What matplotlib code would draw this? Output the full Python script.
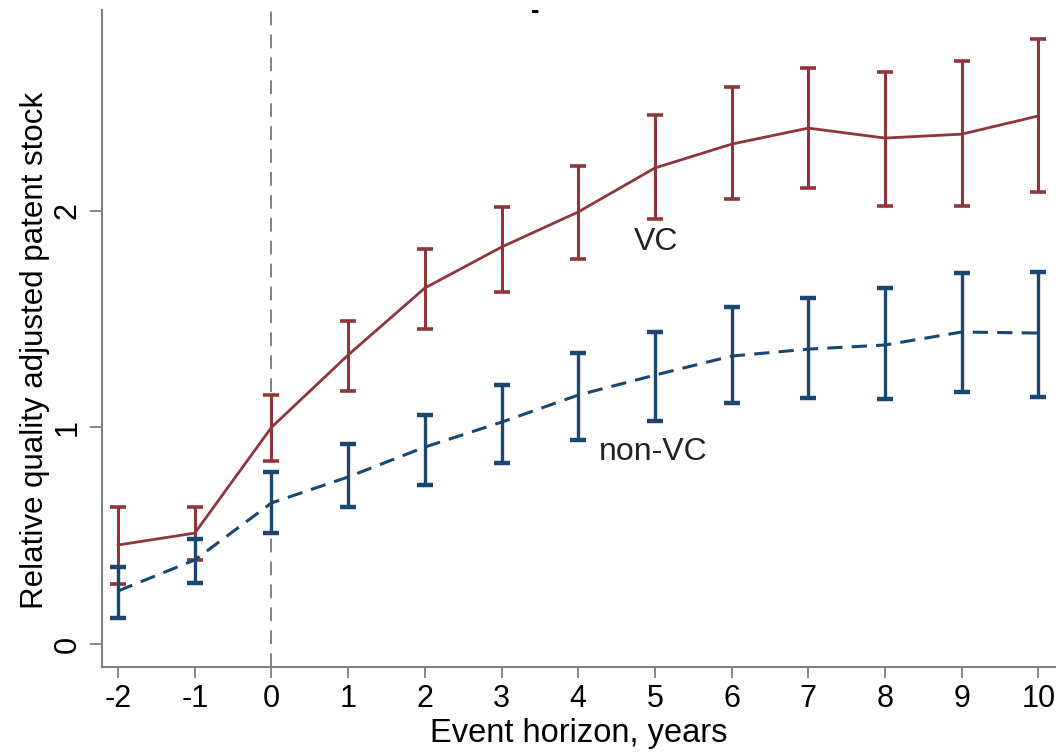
import matplotlib as mpl
mpl.use('Agg')
import matplotlib.pyplot as plt
import matplotlib.ticker as tick

# event horizon (years)
years = [-2, -1, 0, 1, 2, 3, 4, 5, 6, 7, 8, 9, 10]

# VC backed firms: point estimate, upper and lower 95% bounds
vc_mean = [0.457, 0.512, 1.00, 1.334, 1.643, 1.832, 1.994, 2.197, 2.307, 2.381, 2.335, 2.353, 2.437]
vc_hi   = [0.632, 0.632, 1.15, 1.490, 1.823, 2.017, 2.206, 2.441, 2.570, 2.658, 2.640, 2.690, 2.790]
vc_lo   = [0.277, 0.388, 0.845, 1.167, 1.454, 1.624, 1.777, 1.961, 2.053, 2.104, 2.021, 2.021, 2.086]

# non-VC firms
nvc_mean = [0.245, 0.388, 0.651, 0.771, 0.909, 1.024, 1.149, 1.241, 1.329, 1.361, 1.380, 1.440, 1.435]
nvc_hi   = [0.355, 0.485, 0.794, 0.923, 1.057, 1.195, 1.343, 1.440, 1.555, 1.597, 1.643, 1.712, 1.717]
nvc_lo   = [0.120, 0.280, 0.512, 0.632, 0.734, 0.835, 0.941, 1.029, 1.112, 1.135, 1.130, 1.163, 1.140]

red  = '#90353b'
blue = '#1a476f'
grey = '#7f7f7f'

plt.rcParams['font.family'] = ['Liberation Sans', 'DejaVu Sans']
plt.rcParams['axes.unicode_minus'] = False

fig = plt.figure(figsize=(10.56, 7.55), dpi=100)
ax = fig.add_axes([102/1056, 1-667/755, 1-102/1056, (667-10)/755])

ax.axvline(0, color='#606060', linewidth=1.1, linestyle=(0, (9, 6)), zorder=1)

def errs(mean, hi, lo):
    return [[m - l for m, l in zip(mean, lo)], [h - m for m, h in zip(mean, hi)]]

ax.errorbar(years, vc_mean, yerr=errs(vc_mean, vc_hi, vc_lo), color=red,
            linewidth=2.0, elinewidth=2.2, capsize=5.5, capthick=2.6, zorder=3)
ax.errorbar(years, nvc_mean, yerr=errs(nvc_mean, nvc_hi, nvc_lo), color=blue,
            linewidth=2.2, linestyle=(0, (5, 3)), elinewidth=2.4, capsize=5.5, capthick=3.2, zorder=3)

ax.text(5.01, 1.855, 'VC', fontsize=23, ha='center', va='center', color='#222222')
ax.text(4.98, 0.886, 'non-VC', fontsize=23, ha='center', va='center', color='#222222')

ax.set_xlim(-2.21, 10.23)
ax.set_ylim(-0.106, 2.926)
ax.xaxis.set_major_locator(tick.FixedLocator(years))
ax.yaxis.set_major_locator(tick.MultipleLocator(1))

for s in ['top', 'right']:
    ax.spines[s].set_visible(False)
for s in ['left', 'bottom']:
    ax.spines[s].set_color(grey)
    ax.spines[s].set_linewidth(1.5)

ax.tick_params(axis='x', length=8, width=1.3, color=grey, labelsize=22, pad=4)
ax.tick_params(axis='y', length=9, width=1.3, color=grey, labelsize=22, pad=5)
for lb in ax.get_yticklabels():
    lb.set_rotation(90)
    lb.set_va('center')

ax.set_xlabel('Event horizon, years', fontsize=23.5, labelpad=3)
ax.set_ylabel('Relative quality adjusted patent stock', fontsize=22.5)
ax.yaxis.set_label_coords(-0.055, 0.4825)

# stray mark of the cropped title
fig.text(535/1056, 1-11/755, '-', fontsize=18, fontweight='bold', ha='center', va='center')

plt.savefig('out.png', dpi=100)
